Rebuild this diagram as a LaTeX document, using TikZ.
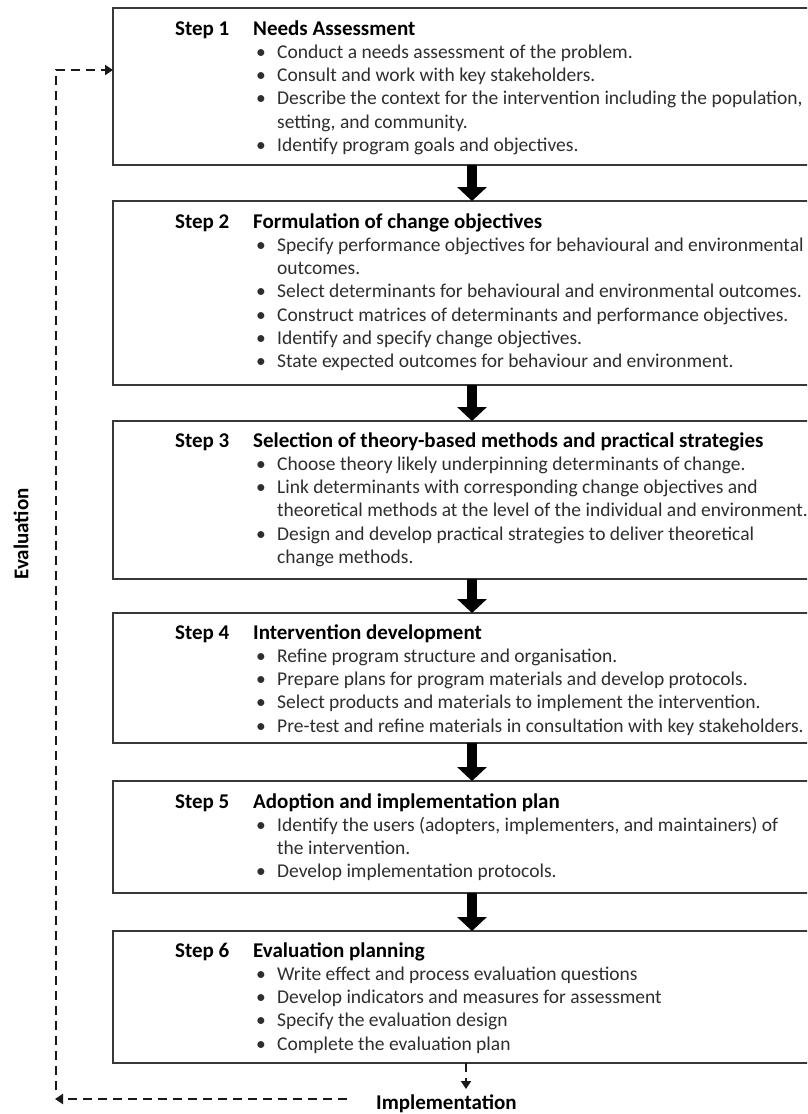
\documentclass[tikz,border=0pt]{standalone}
\usepackage{fontspec}
\setmainfont{Carlito}
\usetikzlibrary{arrows.meta}
\newcommand\shead[2]{\makebox[78pt][l]{\color{black}\fontsize{21}{23.3}\selectfont\bfseries #1}{\color{black}\fontsize{21}{23.3}\selectfont\bfseries #2}}
\newcommand\sbul{\hspace*{81pt}\makebox[21pt][l]{•}}
\newcommand\scont{\hspace*{102pt}}
\begin{document}
\begin{tikzpicture}[x=1pt,y=-1pt,
  box/.style={draw=black!78, line width=1.8pt, fill=white, anchor=north west, minimum width=760pt, inner sep=0pt, outer sep=0pt},
  txt/.style={anchor=base west, inner sep=0pt, text=black!82, font=\fontsize{19.5}{23.3}\selectfont},
  lbl/.style={inner sep=0pt, text=black, font=\fontsize{21}{23}\selectfont\bfseries},
  bigarrow/.style={line width=10pt, -{Triangle[width=29pt,length=14pt]}},
  dashline/.style={line width=2.3pt, dash pattern=on 9pt off 6pt, black!90},
  dtip/.style={-{Triangle[width=10pt,length=8pt]}},
]
\clip (0,0) rectangle (807,1114);
\fill[white] (0,0) rectangle (807,1114);

% boxes
\node[box, minimum height=157pt] (b1) at (113,8) {};
\node[box, minimum height=184pt] (b2) at (113,201) {};
\node[box, minimum height=158pt] (b3) at (113,421) {};
\node[box, minimum height=130pt] (b4) at (113,613) {};
\node[box, minimum height=112pt] (b5) at (113,781) {};
\node[box, minimum height=132pt] (b6) at (113,931) {};

% texts
\node[txt] (t1) at (175,35) {\parbox[t]{700pt}{%
\shead{Step 1}{Needs Assessment}\\
\sbul Conduct a needs assessment of the problem.\\
\sbul Consult and work with key stakeholders.\\
\sbul Describe the context for the intervention including the population,\\
\scont setting, and community.\\
\sbul Identify program goals and objectives.}};

\node[txt] (t2) at (175,228) {\parbox[t]{700pt}{%
\shead{Step 2}{Formulation of change objectives}\\
\sbul Specify performance objectives for behavioural and environmental\\
\scont outcomes.\\
\sbul Select determinants for behavioural and environmental outcomes.\\
\sbul Construct matrices of determinants and performance objectives.\\
\sbul Identify and specify change objectives.\\
\sbul State expected outcomes for behaviour and environment.}};

\node[txt] (t3) at (175,447) {\parbox[t]{700pt}{%
\shead{Step 3}{Selection of theory-based methods and practical strategies}\\
\sbul Choose theory likely underpinning determinants of change.\\
\sbul Link determinants with corresponding change objectives and\\
\scont theoretical methods at the level of the individual and environment.\\
\sbul Design and develop practical strategies to deliver theoretical\\
\scont change methods.}};

\node[txt] (t4) at (175,639) {\parbox[t]{700pt}{%
\shead{Step 4}{Intervention development}\\
\sbul Refine program structure and organisation.\\
\sbul Prepare plans for program materials and develop protocols.\\
\sbul Select products and materials to implement the intervention.\\
\sbul Pre-test and refine materials in consultation with key stakeholders.}};

\node[txt] (t5) at (175,808) {\parbox[t]{700pt}{%
\shead{Step 5}{Adoption and implementation plan}\\
\sbul Identify the users (adopters, implementers, and maintainers) of\\
\scont the intervention.\\
\sbul Develop implementation protocols.}};

\node[txt] (t6) at (175,957) {\parbox[t]{700pt}{%
\shead{Step 6}{Evaluation planning}\\
\sbul Write effect and process evaluation questions\\
\sbul Develop indicators and measures for assessment\\
\sbul Specify the evaluation design\\
\sbul Complete the evaluation plan}};

% big arrows
\coordinate (ax) at (472,0);
\draw[bigarrow] (ax |- b1.south) -- (ax |- b2.north);
\draw[bigarrow] (ax |- b2.south) -- (ax |- b3.north);
\draw[bigarrow] (ax |- b3.south) -- (ax |- b4.north);
\draw[bigarrow] (ax |- b4.south) -- (ax |- b5.north);
\draw[bigarrow] (ax |- b5.south) -- (ax |- b6.north);

% labels
\node[lbl, anchor=base west] (impl) at (376,1109) {Implementation};
\node[lbl, rotate=90] (ev) at (21,534) {Evaluation};

% dashed feedback loop
\coordinate (sa) at (466,0);
\coordinate (sb) at (466,1089);
\draw[dashline, dtip] (sa |- b6.south) -- (sb);
\coordinate (ie) at (347,1099);
\coordinate (bl) at (55,1099);
\draw[dashline, dtip] (ie) -- (bl);
\coordinate (vl) at (56,1090);
\coordinate (tl) at (56,70);
\draw[dashline, dtip] (vl) -- (tl) -- (b1.west |- tl);
\end{tikzpicture}
\end{document}
